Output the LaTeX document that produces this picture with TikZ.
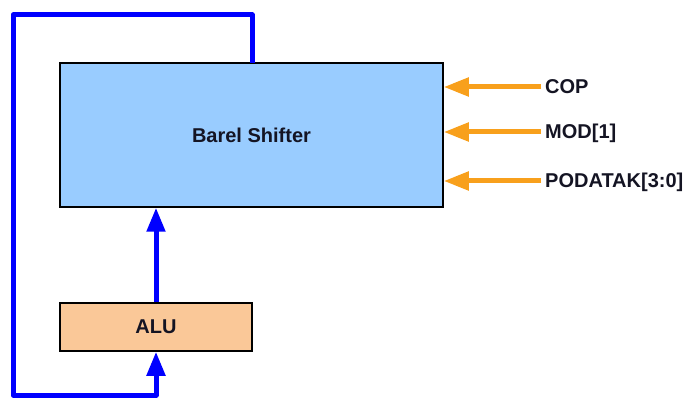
\documentclass[tikz,border=0pt]{standalone}
\usepackage{fontspec}
\setmainfont{Liberation Sans}
\usetikzlibrary{arrows.meta, positioning}

\definecolor{shiftfill}{RGB}{153,204,255}
\definecolor{alufill}{RGB}{250,200,152}
\definecolor{busblue}{RGB}{0,0,255}
\definecolor{ctrlorange}{RGB}{248,160,28}
\definecolor{labeltext}{RGB}{20,20,35}

\begin{document}
\begin{tikzpicture}[x=1pt, y=-1pt]
		\tikzstyle{block}=[rectangle, draw, line width=1.5pt, inner sep=0pt, text=labeltext, font=\fontsize{20}{22}\selectfont\bfseries]
		\tikzstyle{sig}=[inner sep=0pt, anchor=west, text height=14pt, text depth=0pt, text=labeltext, font=\fontsize{20}{22}\selectfont\bfseries]
		\tikzstyle{bus}=[draw=busblue, line width=5pt, line join=round, >={Triangle[width=18pt, length=24pt]}]
		\tikzstyle{ctrl}=[draw=ctrlorange, line width=5pt, ->, >={Triangle[width=18pt, length=25pt]}]

		\useasboundingbox (0,0) rectangle (691,398);

		\node[block, fill=shiftfill, minimum width=383pt, minimum height=144pt] (shifter) at (251.5,135) {Barel Shifter};

		\node[block, fill=alufill, minimum width=192pt, minimum height=48pt] (alu) at (156,327) {ALU};

		\node[sig] (cop) at (545,87) {COP};
		\node[sig] (mod) at (545,132) {MOD[1]};
		\node[sig] (podatak) at (545,181) {PODATAK[3:0]};

		\coordinate (loopstart) at (252,63);

		\draw[bus, ->] (alu.north) -- (alu.north |- shifter.south);
		\draw[bus, ->] (loopstart) |- (13,15) |- (156,395) -- (alu.south);

		\draw[ctrl] ([xshift=-4pt]cop.west) -- (shifter.east |- cop.west);
		\draw[ctrl] ([xshift=-4pt]mod.west) -- (shifter.east |- mod.west);
		\draw[ctrl] ([xshift=-4pt]podatak.west) -- (shifter.east |- podatak.west);

	\end{tikzpicture}
\end{document}
